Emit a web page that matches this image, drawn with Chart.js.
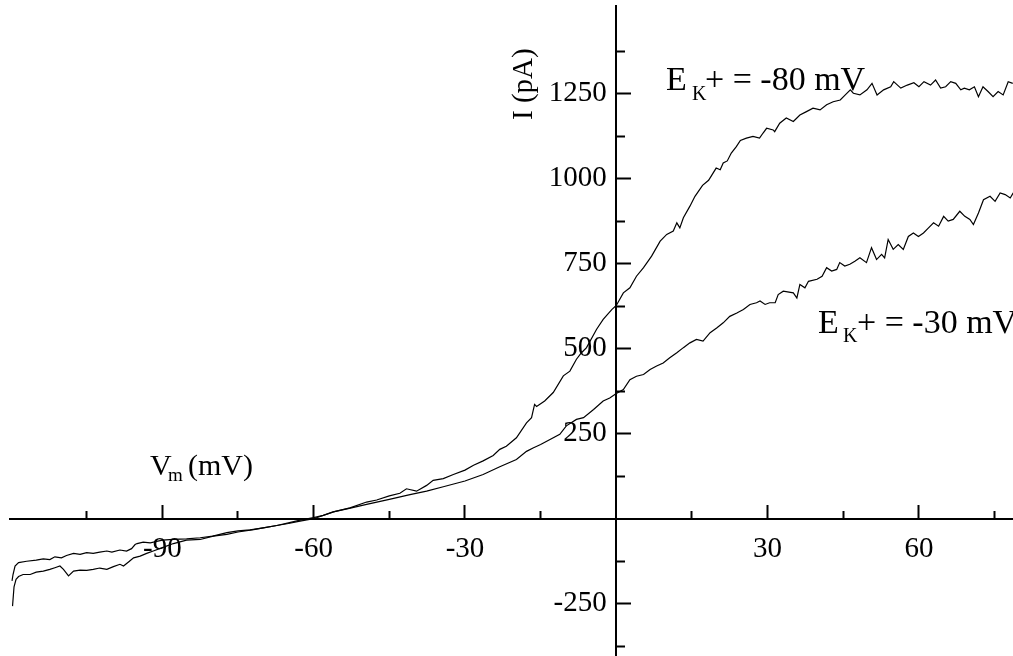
<!DOCTYPE html>
<html lang="en">
<head>
<meta charset="utf-8">
<title>I-V curves</title>
<script src="https://cdn.jsdelivr.net/npm/chart.js@4.4.1/dist/chart.umd.min.js"></script>
<style>
  html, body { margin: 0; padding: 0; background: #fff; }
  .wrap { position: relative; width: 1013px; height: 656px; }
</style>
</head>
<body>
<div class="wrap"><canvas id="iv"></canvas></div>
<script>
// trace recorded with E_K+ = -80 mV  (Vm in mV, I in pA)
const vmA = [-119.7, -119.4, -119.0, -118.5, -117.6, -116.2, -115.0, -113.6, -112.3, -111.3,
  -110.3, -109.6, -108.6, -107.6, -106.3, -105.0, -103.7, -102.4, -101.0, -99.7,
  -98.4, -97.7, -96.7, -95.7, -94.4, -93.1, -91.8, -90.0, -87.8, -85.2,
  -82.5, -79.9, -77.2, -75.0, -71.9, -70.0, -67.3, -65.0, -62.7, -60.0,
  -58.1, -56.1, -52.8, -49.5, -47.5, -45.0, -42.9, -41.6, -39.6, -37.6,
  -36.3, -34.3, -32.3, -30.0, -28.3, -26.4, -24.4, -23.1, -21.8, -19.8,
  -17.8, -16.8, -16.2, -15.8, -14.2, -12.5, -10.5, -9.2, -7.9, -6.9,
  -5.9, -3.9, -2.6, -0.9, 0, 1.4, 2.7, 4.0, 5.4, 7.0,
  8.7, 10.0, 11.3, 12.0, 12.6, 13.3, 14.6, 15.6, 17.1, 18.3,
  19.8, 20.6, 21.2, 22.0, 22.8, 23.8, 24.6, 25.8, 27.1, 28.4,
  29.1, 29.8, 31.1, 31.4, 32.4, 33.7, 35.1, 36.4, 37.7, 39.0,
  40.4, 41.7, 43.0, 44.4, 45.4, 46.4, 47.0, 48.3, 49.7, 50.7,
  51.7, 53.0, 54.4, 55.0, 56.4, 57.7, 59.0, 60.0, 61.0, 62.3,
  63.3, 64.3, 65.3, 66.3, 67.3, 68.3, 69.0, 70.0, 71.0, 71.8,
  72.7, 73.7, 74.7, 75.7, 76.7, 77.7, 78.6];
const iA = [-257, -200, -178, -170, -164, -164, -157, -154, -149, -144,
  -139, -149, -168, -154, -151, -152, -149, -145, -149, -141,
  -134, -139, -127, -115, -110, -102, -95, -85, -73, -63,
  -61, -51, -46, -39, -32, -27, -20, -12, -4, 3,
  10, 20, 32, 49, 55, 67, 75, 88, 81, 98,
  113, 118, 130, 143, 157, 170, 186, 204, 213, 238,
  282, 297, 336, 330, 346, 371, 420, 434, 469, 488,
  503, 557, 586, 615, 627, 664, 679, 713, 738, 772,
  816, 836, 846, 870, 855, 885, 919, 948, 980, 995,
  1031, 1026, 1046, 1052, 1075, 1094, 1112, 1119, 1124, 1119,
  1134, 1148, 1143, 1138, 1163, 1178, 1168, 1187, 1197, 1207,
  1202, 1217, 1226, 1231, 1246, 1261, 1251, 1246, 1261, 1280,
  1246, 1261, 1270, 1285, 1266, 1275, 1282, 1270, 1285, 1275,
  1290, 1266, 1270, 1285, 1280, 1261, 1266, 1261, 1270, 1241,
  1270, 1256, 1241, 1256, 1246, 1285, 1280];

// trace recorded with E_K+ = -30 mV
const vmB = [-119.8, -119.6, -119.2, -118.5, -116.9, -115.0, -113.6, -112.3, -111.3, -110.0,
  -109.0, -107.6, -106.3, -105.0, -103.7, -102.4, -101.0, -100.0, -98.4, -97.1,
  -96.1, -95.4, -95.0, -93.8, -92.4, -90.0, -87.8, -85.2, -82.5, -80.0,
  -77.2, -75.0, -72.6, -70.0, -67.3, -65.0, -62.7, -60.0, -56.1, -52.5,
  -49.5, -45.0, -40.9, -37.6, -34.3, -30.0, -26.4, -23.1, -19.8, -17.8,
  -16.5, -15.0, -11.2, -9.9, -7.9, -6.5, -4.5, -2.6, -1.3, 0,
  1.4, 2.7, 4.0, 5.4, 6.7, 8.0, 9.3, 10.6, 12.0, 13.3,
  14.6, 15.9, 17.2, 18.6, 19.9, 21.2, 22.5, 23.9, 25.2, 26.5,
  27.8, 28.5, 29.5, 30.4, 31.5, 32.1, 33.1, 35.1, 35.8, 36.4,
  37.4, 38.1, 39.8, 40.8, 41.7, 42.7, 43.7, 44.3, 45.3, 46.3,
  47.3, 48.3, 49.6, 50.6, 51.6, 52.6, 53.2, 53.9, 54.9, 55.9,
  56.9, 57.9, 58.9, 59.9, 60.9, 61.9, 62.9, 63.9, 64.9, 65.8,
  66.8, 68.1, 69.1, 70.1, 70.8, 71.8, 72.8, 74.1, 75.1, 76.1,
  77.1, 78.1, 78.7];
const iB = [-183, -164, -139, -129, -125, -122, -118, -120, -112, -115,
  -108, -102, -105, -100, -102, -98, -95, -98, -92, -95,
  -88, -76, -73, -69, -71, -63, -61, -59, -56, -51,
  -41, -36, -33, -27, -20, -14, -7, 0, 20, 32,
  42, 57, 71, 81, 94, 111, 130, 153, 174, 198,
  208, 218, 248, 273, 292, 297, 321, 346, 355, 368,
  380, 409, 419, 424, 439, 449, 458, 473, 488, 503,
  517, 527, 522, 547, 561, 576, 595, 605, 615, 630,
  635, 640, 630, 635, 635, 659, 669, 664, 649, 689,
  679, 698, 704, 713, 738, 728, 733, 753, 743, 748,
  757, 767, 753, 797, 762, 777, 767, 821, 792, 806,
  792, 830, 840, 830, 840, 855, 870, 860, 889, 875,
  880, 904, 889, 880, 865, 899, 938, 948, 933, 958,
  953, 943, 958];

// ticks
const xMajor = [-90, -60, -30, 30, 60];
const xMinor = [-105, -75, -45, -15, 15, 45, 75];
const yMajor = [-250, 250, 500, 750, 1000, 1250];
const yMinor = [-375, -125, 125, 375, 625, 875, 1125, 1375];

const X_MIN = -120.2, X_MAX = 78.65;
const Y_MIN = -401.5, Y_MAX = 1507.5;

const SERIF = '"Liberation Serif", "Times New Roman", serif';

const toPts = (xs, ys) => xs.map((v, i) => ({x: v, y: ys[i]}));
const setTicks = list => scale => { scale.ticks = list.map(v => ({value: v})); };

// axis labels and curve names
const notes = {
  id: 'notes',
  afterDraw(chart) {
    const ctx = chart.ctx;
    const put = (txt, x, y, size) => {
      ctx.font = size + 'px ' + SERIF;
      ctx.fillText(txt, x, y);
    };
    ctx.save();
    ctx.fillStyle = '#000';
    ctx.textAlign = 'left';
    ctx.textBaseline = 'alphabetic';

    put('E', 666, 90, 34);
    put('K', 692, 100, 20);
    put('+ = -80 mV', 705, 90, 34);

    put('E', 818, 333, 34);
    put('K', 843, 342, 20);
    put('+ = -30 mV', 857, 333, 34);

    put('V', 150, 475, 30);
    put('m', 168, 481, 19);
    put('(mV)', 188, 475, 30);

    ctx.translate(532, 120);
    ctx.rotate(-Math.PI / 2);
    put('I (pA)', 0, 0, 29);
    ctx.restore();
  }
};

const tickFont = {family: SERIF, size: 29, lineHeight: 0.05};
const axisGrid = len => ({
  display: true, drawOnChartArea: false, drawTicks: true,
  tickLength: len, tickWidth: 2, tickColor: '#000'
});

new Chart(document.getElementById('iv'), {
  type: 'scatter',
  data: {
    datasets: [
      {label: 'E_K+ = -80 mV', data: toPts(vmA, iA)},
      {label: 'E_K+ = -30 mV', data: toPts(vmB, iB)}
    ]
  },
  options: {
    responsive: true,
    maintainAspectRatio: false,
    animation: false,
    layout: {padding: {left: 10, top: 6, right: 0, bottom: 0}},
    showLine: true,
    elements: {
      point: {radius: 0},
      line: {borderColor: '#000', borderWidth: 1.2, tension: 0, fill: false}
    },
    plugins: {legend: {display: false}, tooltip: {enabled: false}},
    scales: {
      x: {
        type: 'linear', min: X_MIN, max: X_MAX, bounds: 'data',
        position: {y: 0},
        afterBuildTicks: setTicks(xMajor),
        ticks: {
          font: {family: SERIF, size: 29, lineHeight: 1},
          color: '#000', padding: 31, maxRotation: 0, autoSkip: false,
          callback: v => String(v)
        },
        grid: axisGrid(-15),
        border: {display: true, color: '#000', width: 2}
      },
      xMinor: {
        type: 'linear', min: X_MIN, max: X_MAX, bounds: 'data',
        position: {y: 0},
        afterBuildTicks: setTicks(xMinor),
        ticks: {display: false},
        grid: axisGrid(-8),
        border: {display: false}
      },
      y: {
        type: 'linear', min: Y_MIN, max: Y_MAX, bounds: 'data',
        position: {x: 0},
        afterBuildTicks: setTicks(yMajor),
        ticks: {display: false},
        grid: axisGrid(-16),
        border: {display: true, color: '#000', width: 2}
      },
      yMinor: {
        type: 'linear', min: Y_MIN, max: Y_MAX, bounds: 'data',
        position: {x: 0},
        afterBuildTicks: setTicks(yMinor),
        ticks: {display: false},
        grid: axisGrid(-9),
        border: {display: false}
      },
      yLabels: {
        type: 'linear', min: Y_MIN, max: Y_MAX, bounds: 'data',
        position: {x: -1.9},
        afterBuildTicks: setTicks(yMajor),
        ticks: {font: tickFont, color: '#000', padding: 0, autoSkip: false, callback: v => String(v)},
        grid: {display: false},
        border: {display: false}
      }
    }
  },
  plugins: [notes]
});
</script>
</body>
</html>
